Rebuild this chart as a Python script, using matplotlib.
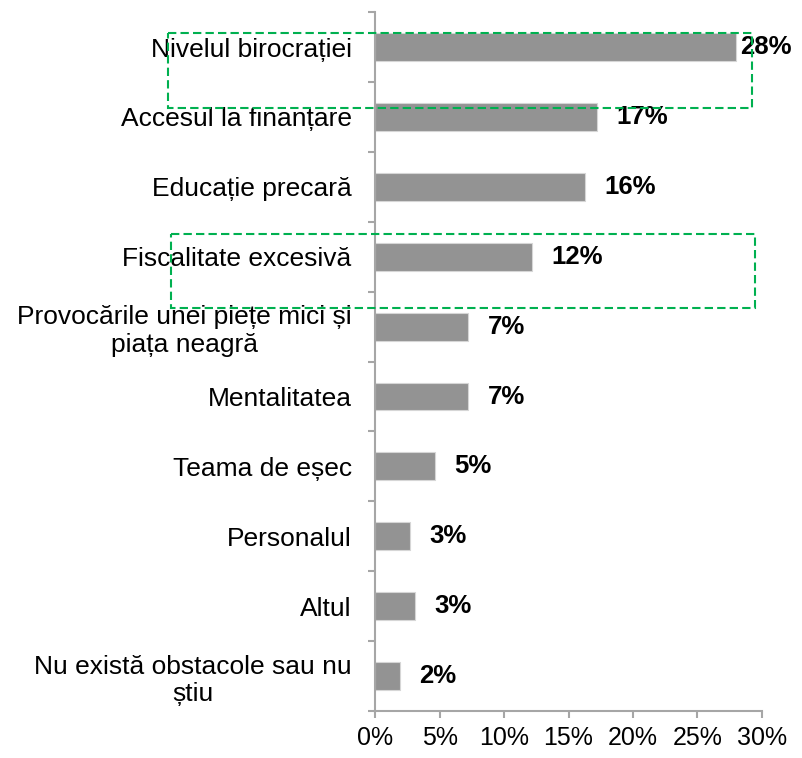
import matplotlib as mpl
mpl.use('Agg')
import matplotlib.pyplot as plt
from matplotlib.patches import Rectangle
from matplotlib.ticker import FixedLocator

categories = [
    'Nivelul birocrației',
    'Accesul la finanțare',
    'Educație precară',
    'Fiscalitate excesivă',
    'Provocările unei piețe mici și\npiața neagră',
    'Mentalitatea',
    'Teama de eșec',
    'Personalul',
    'Altul',
    'Nu există obstacole sau nu\nștiu',
]
values = [28.0, 17.2, 16.3, 12.2, 7.2, 7.2, 4.6, 2.7, 3.1, 1.9]
labels = ['28%', '17%', '16%', '12%', '7%', '7%', '5%', '3%', '3%', '2%']
xticks = [0, 5, 10, 15, 20, 25, 30]

plt.rcParams['font.family'] = ['Liberation Sans', 'DejaVu Sans']

fig = plt.figure(figsize=(8.02, 7.58), dpi=100)
ax = fig.add_axes([0.468, 0.062, 0.4818, 0.922])

pos = list(range(len(categories)))
ax.barh(pos, values, height=0.4, color='#939393', edgecolor='#d6d6d6', linewidth=0.8)

for p, v, t in zip(pos, values, labels):
    ax.text(min(v + 1.5, 28.3), p, t, va='center', ha='left',
            fontsize=18.5, fontweight='bold', color='black')

ax.set_xlim(0, 30)
ax.set_ylim(9.5, -0.5)
ax.set_xticks(xticks)
ax.set_xticklabels([f'{x}%' for x in xticks], fontsize=18)
ax.set_yticks(pos)
ax.set_yticklabels(categories, fontsize=19, multialignment='center', linespacing=1.2)
ax.yaxis.set_minor_locator(FixedLocator([p - 0.5 for p in pos] + [9.5]))

grey = '#a6a6a6'
for s in ['top', 'right']:
    ax.spines[s].set_visible(False)
for s in ['left', 'bottom']:
    ax.spines[s].set_color(grey)
    ax.spines[s].set_linewidth(1.5)
ax.tick_params(axis='y', which='major', length=0, pad=17)
ax.tick_params(axis='y', which='minor', length=5, width=1.5, color=grey)
ax.tick_params(axis='x', length=5, width=1.5, color=grey, pad=6)

# dashed highlight boxes
green = '#00b050'
for y0, y1, x0, x1 in [(-0.2, 0.866, -16.1, 29.25), (3 - 0.325, 3.73, -15.9, 29.5)]:
    ax.add_patch(Rectangle((x0, y0), x1 - x0, y1 - y0, fill=False,
                           edgecolor=green, linestyle=(0, (4, 2)),
                           linewidth=1.5, clip_on=False, zorder=5))

plt.savefig('out.png', dpi=100)
